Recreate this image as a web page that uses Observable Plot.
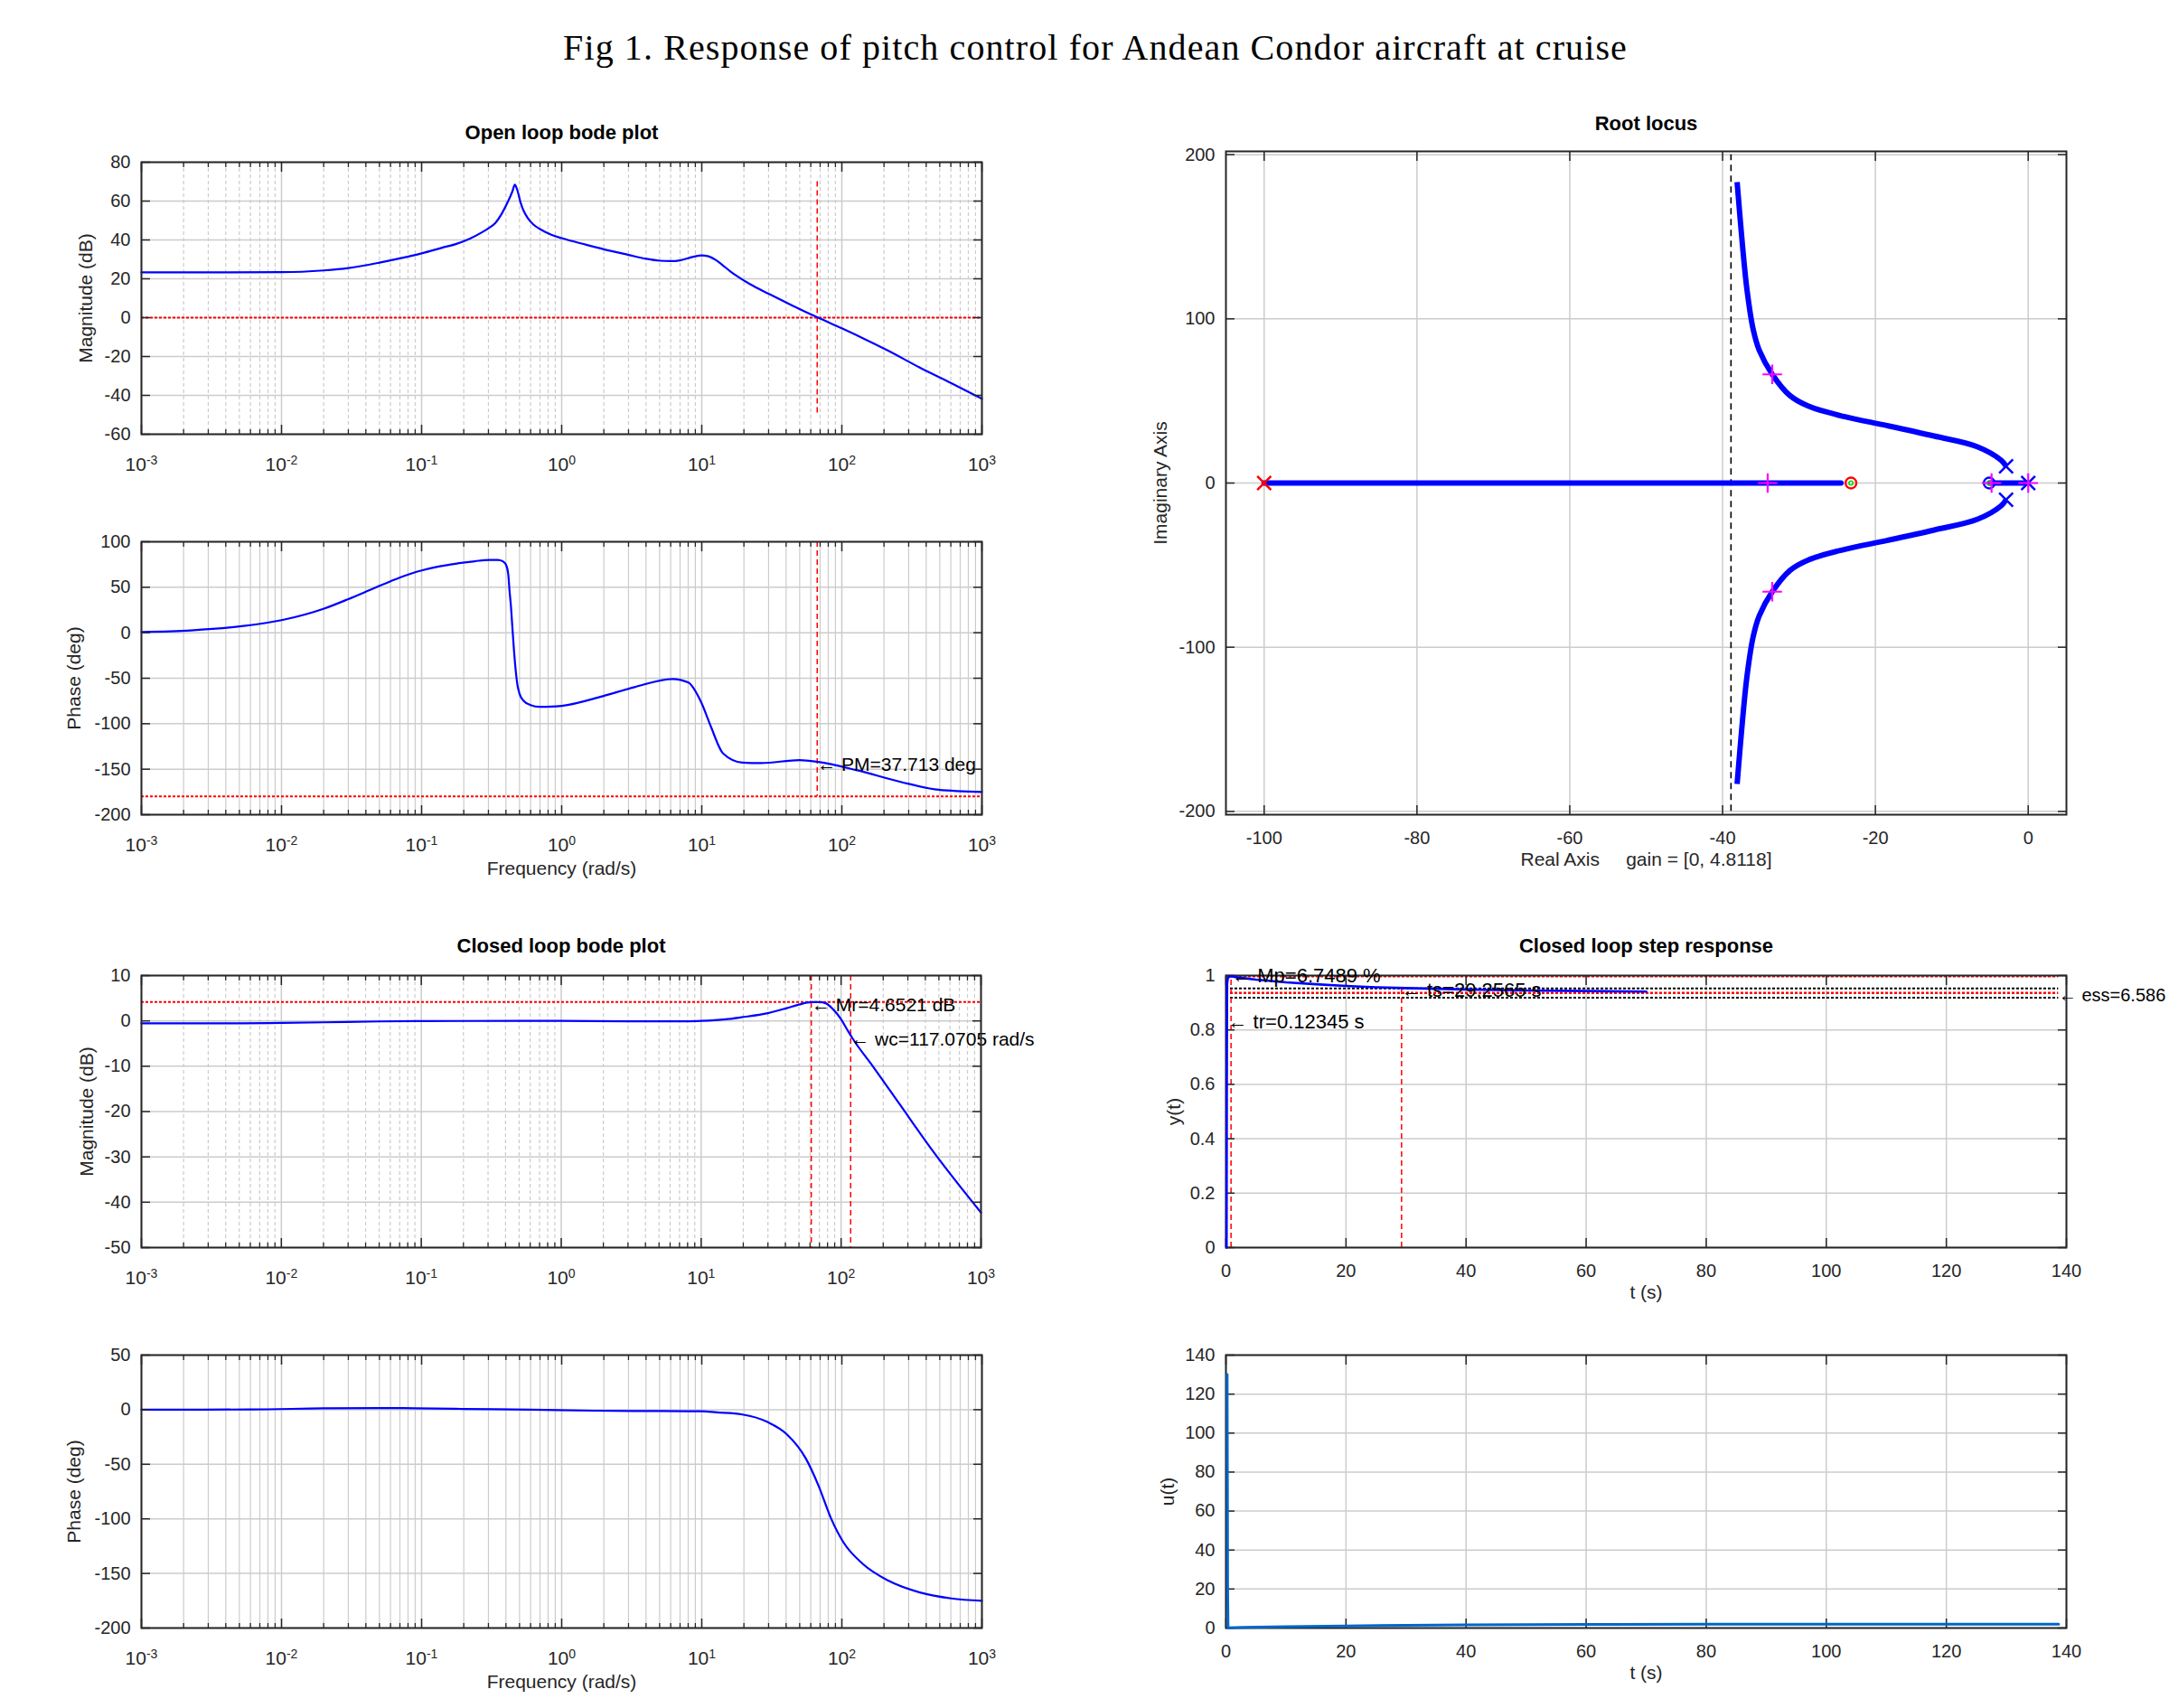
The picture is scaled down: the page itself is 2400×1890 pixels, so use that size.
<!DOCTYPE html>
<html>
<head>
<meta charset="utf-8">
<script src="https://cdn.jsdelivr.net/npm/d3@7"></script>
<script src="https://cdn.jsdelivr.net/npm/@observablehq/plot@0.6"></script>
<style>
  html, body { margin: 0; padding: 0; background: #fff; }
  #root { position: relative; width: 2400px; height: 1890px; overflow: hidden; background: #fff; }
  #title { position: absolute; left: 12px; top: 33px; width: 2400px; text-align: center;
           font-family: "Liberation Serif", "DejaVu Serif", serif; font-size: 40px; letter-spacing: 1.1px; line-height: 1; color: #000; }
</style>
</head>
<body>
<div id="root">
  <div id="title">Fig 1. Response of pitch control for Andean Condor aircraft at cruise</div>
</div>
<script>
// ---------------- data ----------------
// Open loop Bode: magnitude
const olMagW  = [0.001, 0.01, 0.02, 0.03, 0.05, 0.07, 0.1, 0.14, 0.179, 0.22, 0.271, 0.3, 0.335, 0.372, 0.412, 0.445, 0.463, 0.482, 0.51, 0.535, 0.57, 0.626, 0.7, 0.77, 0.85, 1.0, 1.5, 2, 3, 4, 5, 6, 7, 8, 9, 10, 11, 12.5, 14, 16, 18, 22, 30, 44.8, 66.7, 100, 150, 214, 360, 600, 1000];
const olMagDb = [23.3, 23.4, 24.3, 25.5, 28.3, 30.5, 33.1, 36.0, 38.1, 40.6, 44.0, 46.0, 48.6, 53.3, 59.5, 65.0, 68.4, 65.7, 59.0, 55.0, 51.5, 48.0, 45.6, 44.0, 42.6, 40.9, 37.5, 35.2, 32.3, 30.3, 29.3, 29.1, 29.5, 30.6, 31.6, 32.0, 31.7, 29.8, 27.2, 23.8, 21.2, 17.3, 12.3, 6.1, 0.2, -5.5, -11.5, -17.0, -25.7, -33.6, -41.7];
// Open loop Bode: phase
const olPhW   = [0.001, 0.00225, 0.0052, 0.01, 0.0201, 0.03, 0.0417, 0.05, 0.06, 0.0702, 0.085, 0.1, 0.13, 0.179, 0.24, 0.302, 0.35, 0.38, 0.40, 0.415, 0.425, 0.434, 0.445, 0.457, 0.47, 0.482, 0.5, 0.535, 0.6, 0.695, 0.85, 1.0, 1.97, 3.31, 6.19, 8.03, 9.9, 11.6, 14.2, 19.5, 26.6, 49.8, 68, 127, 263, 490, 1000];
const olPhDeg = [0.9, 2.6, 7.2, 13.8, 26.5, 37.0, 46.3, 51.5, 56.5, 60.8, 65.3, 68.5, 72.6, 76.1, 78.6, 80.1, 80.0, 78.5, 75.0, 65.0, 45.0, 29.7, 5.0, -20.0, -42.0, -56.3, -67.0, -74.8, -79.5, -81.4, -81.2, -80.4, -69.7, -59.8, -50.8, -54.8, -76.3, -102.9, -132.7, -142.7, -143.3, -140, -142, -151, -164, -172.6, -175];
const olGainCrossW = 66.7;          // red dashed vertical line
const olMagRefDb = 0;               // red dotted horizontal line (0 dB)
const olPhRefDeg = -180;            // red dotted horizontal line (-180 deg)
const olVLineMagRange = [70, -50];
const olVLinePhRange = [100, -180];
const pmNote = {w: 66.7, v: -145.3, label: "\u2190 PM=37.713 deg"};

// Closed loop Bode: magnitude
const clMagW  = [0.001, 0.005, 0.01, 0.02, 0.05, 0.1, 0.5, 1, 3, 8, 10, 15, 19.4, 30, 40.8, 50, 61.2, 70, 77.6, 88, 99.5, 110, 121, 167.6, 261, 460, 1000];
const clMagDb = [-0.55, -0.52, -0.45, -0.32, -0.12, -0.03, 0, 0, -0.08, -0.08, 0, 0.35, 0.8, 1.7, 2.8, 3.6, 4.14, 4.15, 3.9, 2.5, 0.47, -1.8, -3.9, -9.9, -18.3, -29.0, -42.3];
// Closed loop Bode: phase
const clPhW   = [0.001, 0.006, 0.02, 0.05, 0.09, 0.2, 0.6, 1.7, 5, 10, 12.8, 19.5, 29.5, 40.4, 55.2, 68, 83.8, 103, 141, 213, 360, 605, 1000];
const clPhDeg = [0, 0.2, 1.2, 1.5, 1.3, 0.7, 0, -0.9, -1.3, -1.5, -2.5, -4.4, -11.3, -22.4, -44.5, -69.3, -99.7, -121.8, -141.2, -156.4, -167.4, -172.9, -175.1];
const clPeakDb = 4.15;              // red dotted horizontal (resonance level)
const clPeakW = 61.2;               // red dashed vertical
const clBandW = 117.07;             // red dashed vertical
const clNotes = [
  {w: 61.5, v: 3.4, label: "\u2190 Mr=4.6521 dB"},
  {w: 117.07, v: -4.1, label: "\u2190 wc=117.0705 rad/s"}
];

// Root locus
const rlUpperRe = [-2.9, -3.55, -6.7, -12.3, -18.5, -24.1, -28.8, -31.2, -33.5, -35.2, -36.0, -36.8, -37.4, -38.1];
const rlUpperIm = [10.2, 13.9, 22.2, 28.6, 35.0, 40.5, 46.9, 53.3, 66.2, 80.8, 93.6, 117.4, 144.9, 183.3];
const rlRealA = [-100, -24.5];
const rlRealB = [-5.1, 0];
const rlAsymptote = -38.9;
const rlAsymRange = [-200, 200];
const rlRedPoleRe = [-100], rlRedPoleIm = [0];
const rlBluePoleRe = [-2.9, -2.9, 0], rlBluePoleIm = [10.2, -10.2, 0];
const rlRedZeroRe = [-23.2], rlRedZeroIm = [0];
const rlBlueZeroRe = [-5.1], rlBlueZeroIm = [0];
const rlGainRe = [-33.5, -33.5, -34.1, -4.8, 0], rlGainIm = [66.2, -66.2, 0, 0, 0];

// Closed loop step response
const stepT = [0.1, 0.12, 0.14, 0.16, 0.18, 0.2, 0.3, 0.6, 1, 2, 5, 10, 15, 20, 25, 30, 40, 50, 60, 70];
const stepY = [0, 0.25, 0.55, 0.75, 0.9, 0.97, 0.99, 0.997, 0.997, 0.993, 0.985, 0.975, 0.968, 0.962, 0.957, 0.954, 0.949, 0.945, 0.943, 0.941];
const stepEnd = 138.7;
const stepPeak = 0.997, stepFinal = 0.936, stepBandHi = 0.9525, stepBandLo = 0.919;
const stepTr = 0.12345, stepTp = 0.85, stepTs = 29.2565;
const stepNotes = [
  {t: 1.0, y: 0.997, label: "\u2190 Mp=6.7489 %", size: 22},
  {t: 29.2565, y: 0.945, label: "\u2190 ts=29.2565 s", size: 22},
  {t: 0.3, y: 0.83, label: "\u2190 tr=0.12345 s", size: 22},
  {t: 138.7, y: 0.925, label: "\u2190 ess=6.586", size: 20}
];

// Control effort
const uT = [0.2, 0.22, 0.25, 0.28, 0.35, 3, 10, 20, 30, 40, 60, 80, 100, 138.7];
const uV = [130, 100, 72, 20, 0.1, 0.3, 0.7, 1.1, 1.4, 1.6, 1.85, 1.95, 2.0, 2.0];

// Tick values
const decadeTicks = [1e-3, 1e-2, 1e-1, 1, 10, 100, 1000];
const decadeExp = ["-3", "-2", "-1", "0", "1", "2", "3"];
const minorFreq = decadeTicks.slice(0, -1).flatMap(d => [2, 3, 4, 5, 6, 7, 8, 9].map(k => k * d));
const olMagTicks = [-60, -40, -20, 0, 20, 40, 60, 80];
const olPhTicks = [-200, -150, -100, -50, 0, 50, 100];
const clMagTicks = [-50, -40, -30, -20, -10, 0, 10];
const clPhTicks = [-200, -150, -100, -50, 0, 50];
const rlXTicks = [-100, -80, -60, -40, -20, 0];
const rlYTicks = [-200, -100, 0, 100, 200];
const tTicks = [0, 20, 40, 60, 80, 100, 120, 140];
const stepYTicks = [0, 0.2, 0.4, 0.6, 0.8, 1];
const stepYLabels = ["0", "0.2", "0.4", "0.6", "0.8", "1"];
const uTicks = [0, 20, 40, 60, 80, 100, 120, 140];

// ---------------- drawing ----------------
const FONT = "Liberation Sans, Arial, Helvetica, sans-serif";
const INK = "#262626";
const GRID = "#cccccc";
const root = document.getElementById("root");
const zip2 = (a, b, ka, kb) => a.map((v, i) => ({[ka]: v, [kb]: b[i]}));
const plain = d => String(d);   // hyphen-minus like the reference

function panel({fx, fy, fw, fh, mL = 150, mR = 120, mT = 70, mB = 80, x, y, marks}) {
  const chart = Plot.plot({
    width: mL + fw + mR, height: mT + fh + mB,
    marginLeft: mL, marginRight: mR, marginTop: mT, marginBottom: mB,
    x, y, marks,
    style: {fontFamily: FONT, fontSize: "20px", background: "transparent", overflow: "visible", color: INK}
  });
  chart.style.position = "absolute";
  chart.style.left = (fx - mL) + "px";
  chart.style.top = (fy - mT) + "px";
  root.appendChild(chart);
  // exponent superscripts on log tick labels ("10^-3")
  d3.select(chart).selectAll('g[aria-label="x-axis tick label"] text').each(function () {
    const t = this.textContent;
    if (!t.startsWith("10^")) return;
    const e = t.slice(3);
    const s = d3.select(this);
    s.text("10");
    s.append("tspan").attr("dy", "-0.55em").attr("font-size", "14px").text(e);
  });
  return chart;
}

function titleMark(text, dy) {
  return Plot.text([text], {text: d => d, frameAnchor: "top", textAnchor: "middle", lineAnchor: "bottom", dy, fontSize: 22, fontWeight: "bold", fill: "#000"});
}
function xLabelMark(text, dy) {
  return Plot.text([text], {text: d => d, frameAnchor: "bottom", textAnchor: "middle", lineAnchor: "bottom", dy, fontSize: 21, fill: INK});
}
function yLabelMark(text, dx) {
  return Plot.text([text], {text: d => d, frameAnchor: "left", textAnchor: "middle", lineAnchor: "middle", rotate: -90, dx, fontSize: 21, fill: INK});
}

function boxTicks(xMajor, xMinor, yMajor) {
  const m = [];
  for (const anchor of ["bottom", "top"]) {
    if (xMinor) m.push(Plot.axisX(xMinor, {anchor, tickSize: -5, tickFormat: () => "", color: INK, strokeWidth: 1.3, label: null}));
    m.push(Plot.axisX(xMajor, {anchor, tickSize: -10, tickFormat: () => "", color: INK, strokeWidth: 1.5, label: null}));
  }
  for (const anchor of ["left", "right"]) {
    m.push(Plot.axisY(yMajor, {anchor, tickSize: -10, tickFormat: () => "", color: INK, strokeWidth: 1.5, label: null}));
  }
  m.push(Plot.frame({stroke: INK, strokeWidth: 2}));
  return m;
}

function bodeGrid(yTicks, minorDash) {
  return [
    Plot.gridX(minorFreq, {stroke: GRID, strokeOpacity: 1, strokeWidth: 1.2, strokeDasharray: minorDash ? "4,3" : null}),
    Plot.gridX(decadeTicks, {stroke: GRID, strokeOpacity: 1, strokeWidth: 1.5}),
    Plot.gridY(yTicks, {stroke: GRID, strokeOpacity: 1, strokeWidth: 1.5})
  ];
}
function bodeLabels(yTicks) {
  return [
    Plot.axisX(decadeTicks, {anchor: "bottom", tickSize: 0, tickPadding: 26, fontSize: 21, color: INK, label: null,
      tickFormat: d => "10^" + decadeExp[decadeTicks.indexOf(d)]}),
    Plot.axisY(yTicks, {anchor: "left", tickSize: 0, tickPadding: 12, fontSize: 20, color: INK, label: null, tickFormat: plain})
  ];
}
const logX = {type: "log", domain: [1e-3, 1e3]};

// 1. Open loop magnitude
panel({
  fx: 156, fy: 179, fw: 930, fh: 301,
  x: logX, y: {domain: [-60, 80]},
  marks: [
    ...bodeGrid(olMagTicks, true),
    Plot.ruleY([olMagRefDb], {stroke: "#ff0000", strokeWidth: 2, strokeDasharray: "3,2"}),
    Plot.ruleX([olGainCrossW], {y1: olVLineMagRange[0], y2: olVLineMagRange[1], stroke: "#ff0000", strokeWidth: 1.5, strokeDasharray: "6,4"}),
    Plot.line(zip2(olMagW, olMagDb, "w", "v"), {x: "w", y: "v", stroke: "#0000ff", strokeWidth: 2.2, curve: "monotone-x"}),
    ...boxTicks(decadeTicks, minorFreq, olMagTicks),
    ...bodeLabels(olMagTicks),
    titleMark("Open loop bode plot", -26),
    yLabelMark("Magnitude (dB)", -61)
  ]
});

// 2. Open loop phase
panel({
  fx: 156, fy: 599, fw: 930, fh: 302,
  x: logX, y: {domain: [-200, 100]},
  marks: [
    ...bodeGrid(olPhTicks, false),
    Plot.ruleY([olPhRefDeg], {stroke: "#ff0000", strokeWidth: 2, strokeDasharray: "3,2"}),
    Plot.ruleX([olGainCrossW], {y1: olVLinePhRange[0], y2: olVLinePhRange[1], stroke: "#ff0000", strokeWidth: 1.5, strokeDasharray: "6,4"}),
    Plot.line(zip2(olPhW, olPhDeg, "w", "v"), {x: "w", y: "v", stroke: "#0000ff", strokeWidth: 2.2, curve: "monotone-x"}),
    Plot.text([pmNote], {x: "w", y: "v", text: "label", textAnchor: "start", fontSize: 21, fill: "#000"}),
    ...boxTicks(decadeTicks, minorFreq, olPhTicks),
    ...bodeLabels(olPhTicks),
    xLabelMark("Frequency (rad/s)", 66),
    yLabelMark("Phase (deg)", -74)
  ]
});

// 3. Root locus
const rlUpper = zip2(rlUpperRe, rlUpperIm, "re", "im");
const rlLower = rlUpper.map(d => ({re: d.re, im: -d.im}));
const pts = (re, im) => zip2(re, im, "re", "im");
panel({
  fx: 1356, fy: 167, fw: 930, fh: 734, mR: 114,
  x: {domain: [-105, 5]}, y: {domain: [-202, 202]},
  marks: [
    Plot.gridX(rlXTicks, {stroke: GRID, strokeOpacity: 1, strokeWidth: 1.5}),
    Plot.gridY(rlYTicks, {stroke: GRID, strokeOpacity: 1, strokeWidth: 1.5}),
    Plot.ruleX([rlAsymptote], {y1: rlAsymRange[0], y2: rlAsymRange[1], stroke: "#000", strokeWidth: 1.6, strokeDasharray: "7,5"}),
    Plot.line(rlUpper, {x: "re", y: "im", stroke: "#0000ff", strokeWidth: 6, curve: "catmull-rom", strokeLinecap: "butt"}),
    Plot.line(rlLower, {x: "re", y: "im", stroke: "#0000ff", strokeWidth: 6, curve: "catmull-rom", strokeLinecap: "butt"}),
    Plot.line(rlRealA.map(re => ({re, im: 0})), {x: "re", y: "im", stroke: "#0000ff", strokeWidth: 6}),
    Plot.line(rlRealB.map(re => ({re, im: 0})), {x: "re", y: "im", stroke: "#0000ff", strokeWidth: 6}),
    Plot.dot(pts(rlRedPoleRe, rlRedPoleIm), {x: "re", y: "im", symbol: "times", r: 7, stroke: "#ff0000", strokeWidth: 2.5}),
    Plot.dot(pts(rlBluePoleRe, rlBluePoleIm), {x: "re", y: "im", symbol: "times", r: 7, stroke: "#0000ff", strokeWidth: 2.5}),
    Plot.dot(pts(rlRedZeroRe, rlRedZeroIm), {x: "re", y: "im", r: 6, stroke: "#ff0000", strokeWidth: 2.4, fill: "none"}),
    Plot.dot(pts(rlBlueZeroRe, rlBlueZeroIm), {x: "re", y: "im", r: 6, stroke: "#0000ff", strokeWidth: 2.4, fill: "none"}),
    Plot.dot(pts([...rlRedZeroRe, ...rlBlueZeroRe], [...rlRedZeroIm, ...rlBlueZeroIm]), {x: "re", y: "im", r: 2.2, stroke: "#00dd00", strokeWidth: 1.6, fill: "none"}),
    Plot.dot(pts(rlGainRe, rlGainIm), {x: "re", y: "im", symbol: "plus", r: 7, stroke: "#ff00ff", strokeWidth: 2.2}),
    ...boxTicks(rlXTicks, null, rlYTicks),
    Plot.axisX(rlXTicks, {anchor: "bottom", tickSize: 0, tickPadding: 18, fontSize: 20, color: INK, label: null, tickFormat: plain}),
    Plot.axisY(rlYTicks, {anchor: "left", tickSize: 0, tickPadding: 12, fontSize: 20, color: INK, label: null, tickFormat: plain}),
    titleMark("Root locus", -24),
    xLabelMark("Real Axis\u00a0\u00a0\u00a0\u00a0\u00a0gain = [0, 4.8118]", 56),
    yLabelMark("Imaginary Axis", -72)
  ]
});

// 4. Closed loop magnitude
panel({
  fx: 156, fy: 1079, fw: 929, fh: 301,
  x: logX, y: {domain: [-50, 10]},
  marks: [
    ...bodeGrid(clMagTicks, true),
    Plot.ruleY([clPeakDb], {stroke: "#ff0000", strokeWidth: 2, strokeDasharray: "3,2"}),
    Plot.ruleX([clPeakW, clBandW], {stroke: "#ff0000", strokeWidth: 1.5, strokeDasharray: "6,4"}),
    Plot.line(zip2(clMagW, clMagDb, "w", "v"), {x: "w", y: "v", stroke: "#0000ff", strokeWidth: 2.2, curve: "monotone-x"}),
    Plot.text(clNotes, {x: "w", y: "v", text: "label", textAnchor: "start", fontSize: 21, fill: "#000"}),
    ...boxTicks(decadeTicks, minorFreq, clMagTicks),
    ...bodeLabels(clMagTicks),
    titleMark("Closed loop bode plot", -26),
    yLabelMark("Magnitude (dB)", -60)
  ]
});

// 5. Closed loop phase
panel({
  fx: 156, fy: 1499, fw: 930, fh: 302,
  x: logX, y: {domain: [-200, 50]},
  marks: [
    ...bodeGrid(clPhTicks, false),
    Plot.line(zip2(clPhW, clPhDeg, "w", "v"), {x: "w", y: "v", stroke: "#0000ff", strokeWidth: 2.2, curve: "monotone-x"}),
    ...boxTicks(decadeTicks, minorFreq, clPhTicks),
    ...bodeLabels(clPhTicks),
    xLabelMark("Frequency (rad/s)", 66),
    yLabelMark("Phase (deg)", -74)
  ]
});

// 6. Step response
panel({
  fx: 1356, fy: 1079, fw: 930, fh: 301, mR: 114,
  x: {domain: [0, 140]}, y: {domain: [0, 1]},
  marks: [
    Plot.gridX(tTicks, {stroke: GRID, strokeOpacity: 1, strokeWidth: 1.5}),
    Plot.gridY(stepYTicks, {stroke: GRID, strokeOpacity: 1, strokeWidth: 1.5}),
    Plot.ruleY([stepBandHi, stepBandLo], {x1: 0, x2: stepEnd, stroke: "#000", strokeWidth: 2, strokeDasharray: "3,2"}),
    Plot.ruleY([stepPeak, stepFinal], {x1: 0, x2: stepEnd, stroke: "#ff0000", strokeWidth: 2.4, strokeDasharray: "3,2"}),
    Plot.ruleX([stepTr], {y1: 0, y2: 1, stroke: "#ff0000", strokeWidth: 1.5, strokeDasharray: "6,4"}),
    Plot.ruleX([stepTp], {y1: 0, y2: stepPeak, stroke: "#ff0000", strokeWidth: 1.5, strokeDasharray: "6,4"}),
    Plot.ruleX([stepTs], {y1: 0, y2: stepBandHi, stroke: "#ff0000", strokeWidth: 1.5, strokeDasharray: "6,4"}),
    ...boxTicks(tTicks, null, stepYTicks),
    Plot.line(zip2(stepT, stepY, "t", "y"), {x: "t", y: "y", stroke: "#0000ff", strokeWidth: 2.6}),
    Plot.text(stepNotes, {x: "t", y: "y", text: "label", textAnchor: "start", fontSize: "size", fill: "#000"}),
    Plot.axisX(tTicks, {anchor: "bottom", tickSize: 0, tickPadding: 18, fontSize: 20, color: INK, label: null, tickFormat: plain}),
    Plot.axisY(stepYTicks, {anchor: "left", tickSize: 0, tickPadding: 12, fontSize: 20, color: INK, label: null,
      tickFormat: d => stepYLabels[stepYTicks.indexOf(d)]}),
    titleMark("Closed loop step response", -26),
    xLabelMark("t (s)", 56),
    yLabelMark("y(t)", -57)
  ]
});

// 7. Control effort
panel({
  fx: 1356, fy: 1499, fw: 930, fh: 302, mR: 114,
  x: {domain: [0, 140]}, y: {domain: [0, 140]},
  marks: [
    Plot.gridX(tTicks, {stroke: GRID, strokeOpacity: 1, strokeWidth: 1.5}),
    Plot.gridY(uTicks, {stroke: GRID, strokeOpacity: 1, strokeWidth: 1.5}),
    ...boxTicks(tTicks, null, uTicks),
    Plot.line(zip2(uT, uV, "t", "u"), {x: "t", y: "u", stroke: "#0066cc", strokeWidth: 3}),
    Plot.axisX(tTicks, {anchor: "bottom", tickSize: 0, tickPadding: 18, fontSize: 20, color: INK, label: null, tickFormat: plain}),
    Plot.axisY(uTicks, {anchor: "left", tickSize: 0, tickPadding: 12, fontSize: 20, color: INK, label: null, tickFormat: plain}),
    xLabelMark("t (s)", 56),
    yLabelMark("u(t)", -64)
  ]
});
</script>
</body>
</html>
